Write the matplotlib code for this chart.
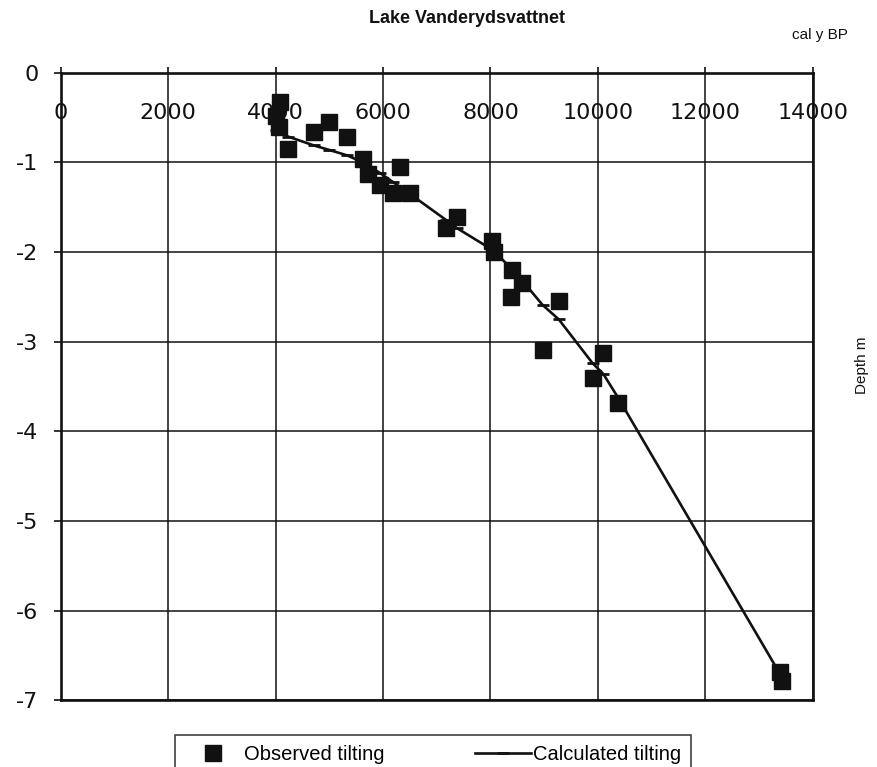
import matplotlib
matplotlib.use('Agg')
import matplotlib.pyplot as plt

# observed tilting (cal y BP, depth m)
obs_age = [4000, 4060, 4080, 4230, 4715, 5000, 5330, 5630, 5730, 5950, 6190, 6320,
           6500, 7170, 7370, 8030, 8060, 8400, 8580, 8390, 9270, 8970, 10100, 9900,
           10370, 13380, 13430]
obs_depth = [-0.48, -0.60, -0.33, -0.85, -0.66, -0.55, -0.72, -0.96, -1.13, -1.25, -1.34, -1.05,
             -1.34, -1.73, -1.61, -1.88, -2.00, -2.20, -2.35, -2.50, -2.55, -3.09, -3.13, -3.40,
             -3.68, -6.68, -6.78]

# calculated tilting
calc_age = [4000, 4230, 4715, 5000, 5330, 5630, 5950, 6190, 6500, 7170, 7370, 8050,
            8400, 8580, 8970, 9270, 9900, 10100, 10370, 13400]
calc_depth = [-0.64, -0.71, -0.81, -0.86, -0.92, -1.00, -1.12, -1.22, -1.35, -1.64, -1.73, -1.98,
              -2.19, -2.31, -2.59, -2.75, -3.24, -3.36, -3.62, -6.72]

xticks = [0, 2000, 4000, 6000, 8000, 10000, 12000, 14000]
yticks = [0, -1, -2, -3, -4, -5, -6, -7]

plt.rcParams['font.family'] = ['Liberation Sans', 'DejaVu Sans']
ink = '#111111'

fig = plt.figure(figsize=(8.77, 7.67), dpi=100)
ax = fig.add_axes([0.069, 0.087, 0.858, 0.818])

ax.plot(obs_age, obs_depth, linestyle='none', marker='s', markersize=11,
        color=ink, label='Observed tilting', zorder=3)
ax.plot(calc_age, calc_depth, color=ink, linewidth=1.9, marker='_', markersize=8,
        markeredgewidth=2, label='Calculated tilting', zorder=4)

ax.set_xlim(0, 14000)
ax.set_ylim(-7, 0)
ax.set_xticks(xticks)
ax.set_yticks(yticks)
ax.set_xticklabels([str(t) for t in xticks], family='DejaVu Sans')
ax.set_yticklabels([str(t) for t in yticks], family='DejaVu Sans')
ax.grid(True, color=ink, linewidth=1.1)
ax.set_axisbelow(True)
for s in ax.spines.values():
    s.set_linewidth(1.9)
    s.set_color(ink)

# x labels sit inside the plot, just under the top axis
ax.tick_params(axis='x', top=True, bottom=False, labeltop=True, labelbottom=False,
               direction='out', length=4.5, width=1.2, pad=-40.5, labelsize=16, colors=ink)
ax.tick_params(axis='y', direction='out', length=5, width=1.2, pad=11, labelsize=16, colors=ink)

fig.text(0.533, 0.976, 'Lake Vanderydsvattnet', ha='center', va='center',
         fontsize=13, fontweight='bold', color=ink)
fig.text(0.935, 0.954, 'cal y BP', ha='center', va='center', fontsize=11, color=ink)
fig.text(0.983, 0.524, 'Depth m', ha='center', va='center', rotation=90, fontsize=11, color=ink)

leg = fig.legend(loc='upper center', bbox_to_anchor=(0.494, 0.055), ncol=2, fontsize=14.5,
                 frameon=True, fancybox=False, edgecolor=ink, handlelength=2.8,
                 handletextpad=0.1, columnspacing=4.5, borderpad=0.5, numpoints=1)
leg.get_frame().set_linewidth(1.2)

fig.savefig('out.png', dpi=100, facecolor='white')
